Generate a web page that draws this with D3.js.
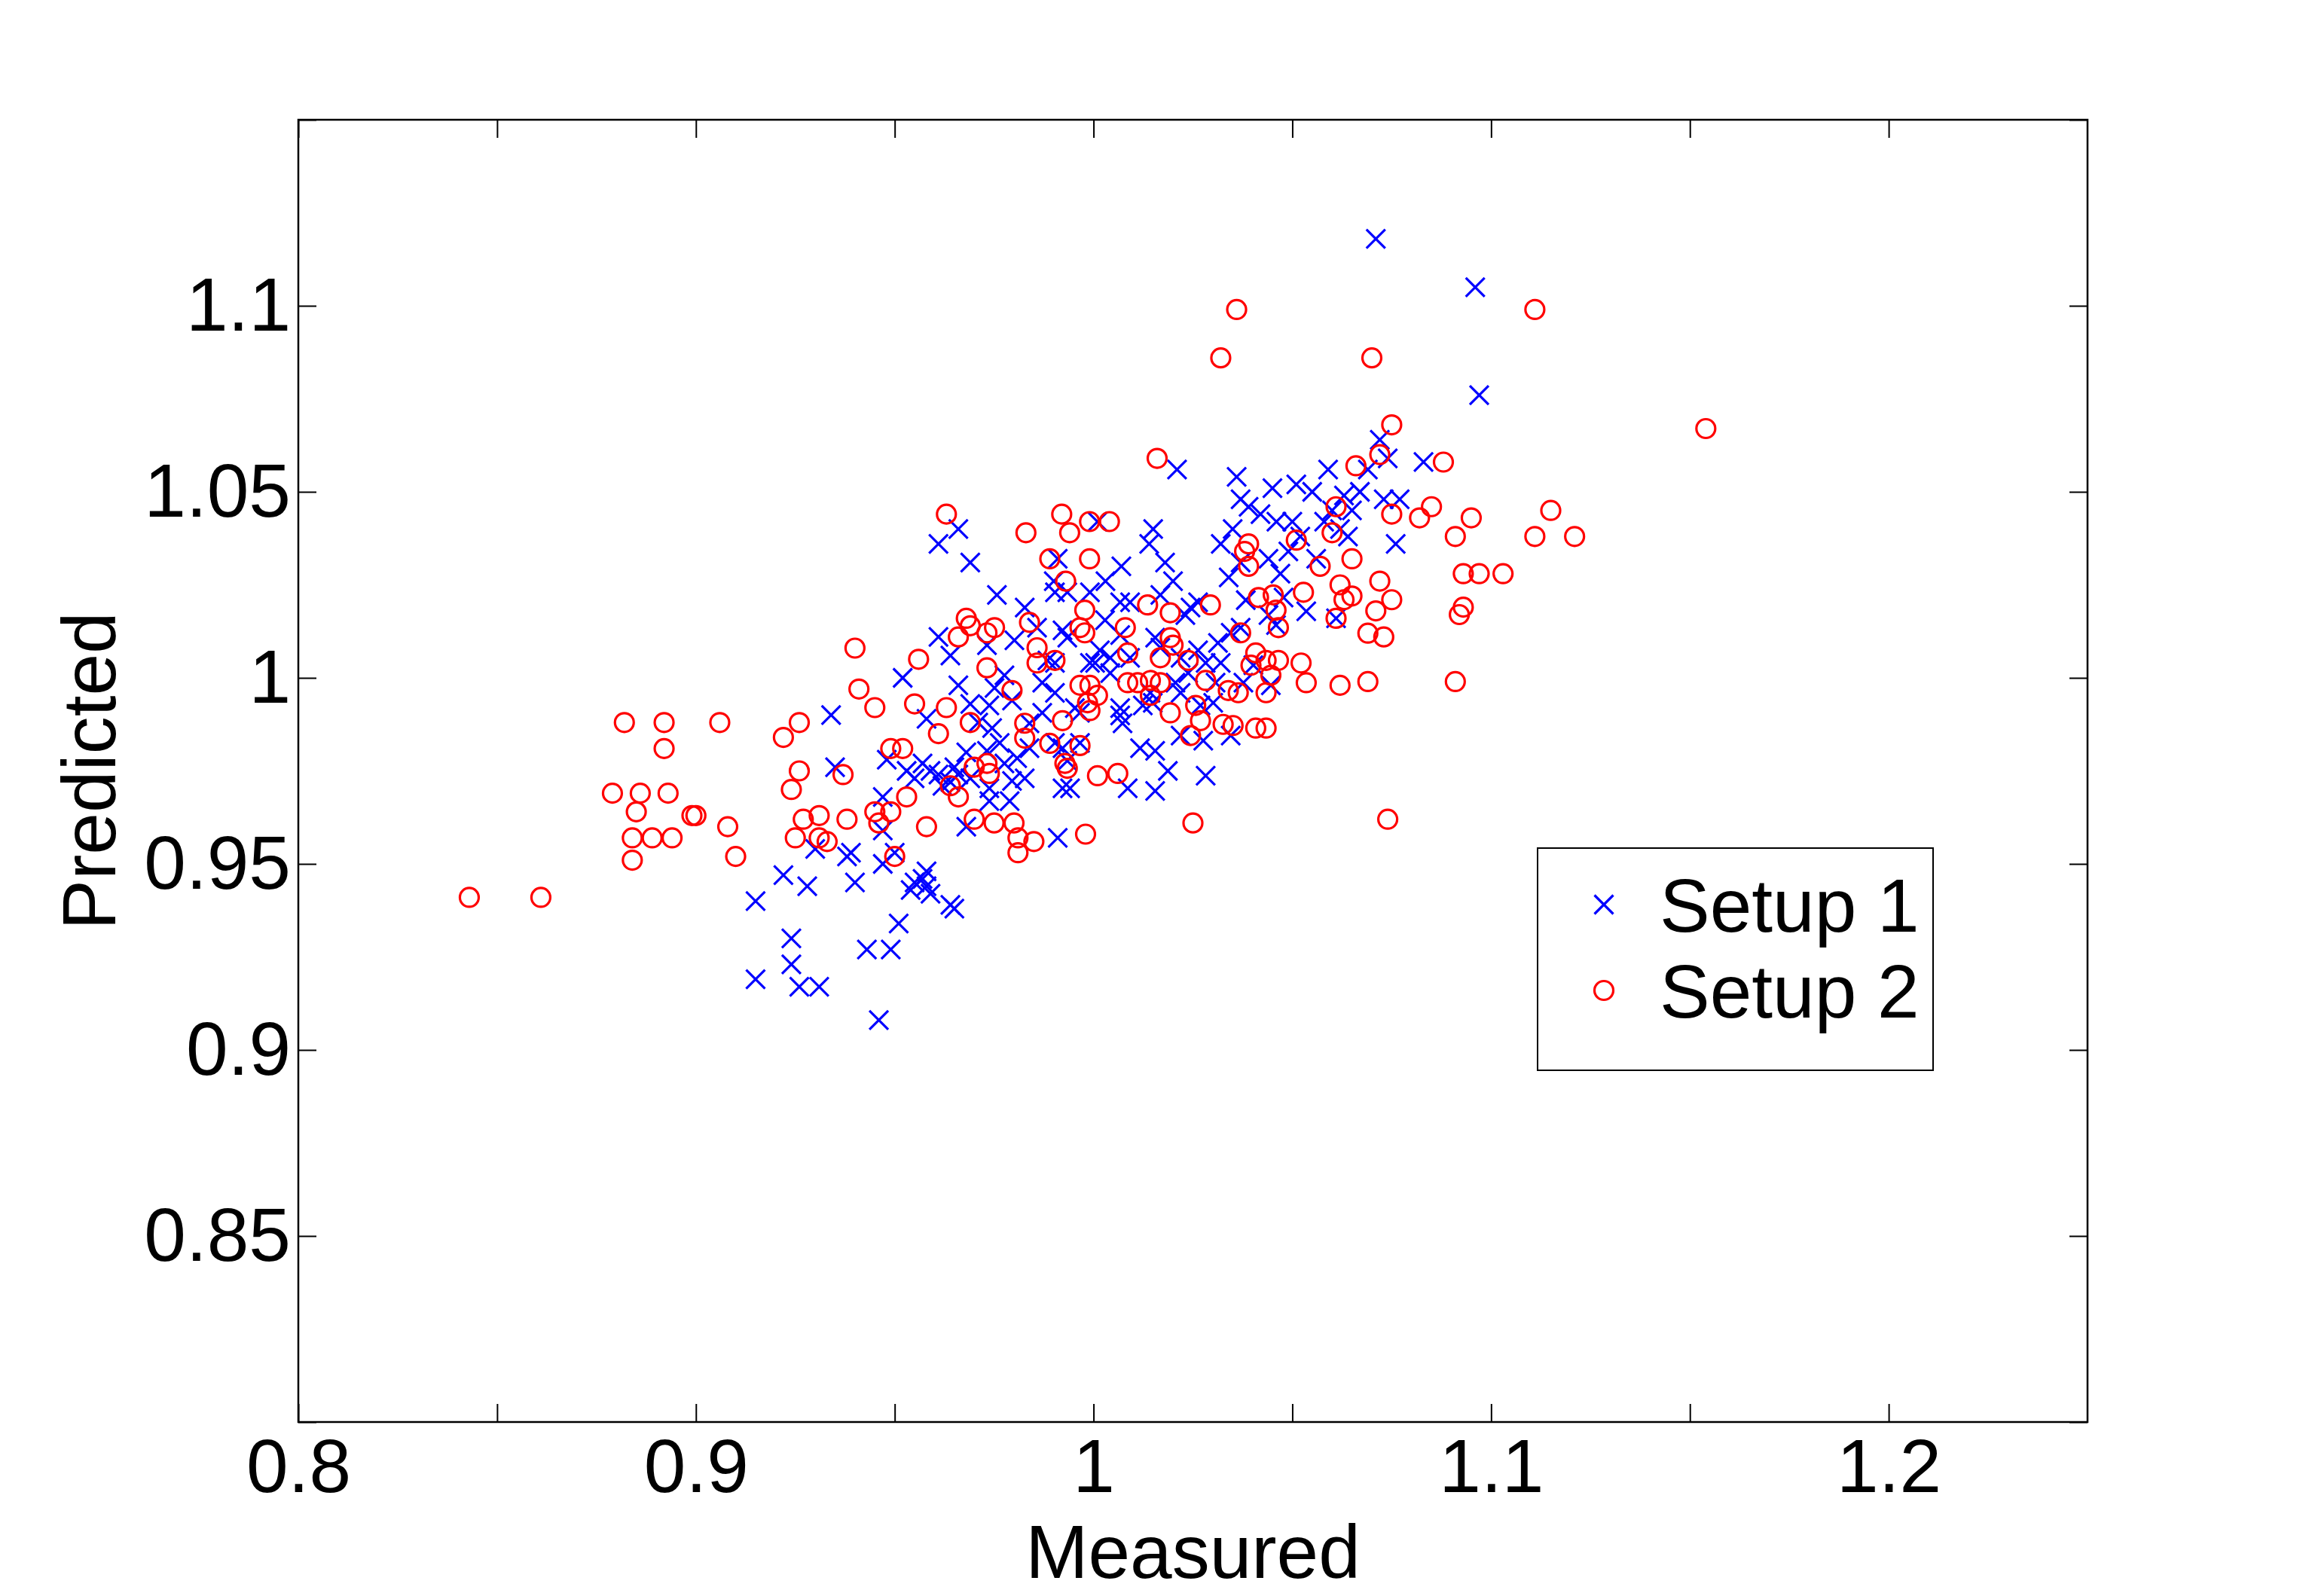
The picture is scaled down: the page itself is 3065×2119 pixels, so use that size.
<!DOCTYPE html>
<html>
<head>
<meta charset="utf-8">
<script src="https://cdn.jsdelivr.net/npm/d3@7"></script>
<style>
  html, body { margin: 0; padding: 0; background: #fff; }
  text { font-family: "Liberation Sans", Arial, sans-serif; fill: #000; }
</style>
</head>
<body>
<svg id="chart" width="3065" height="2119"></svg>
<script>
// ---------------- data ----------------
const xTickValues = [0.8, 0.85, 0.9, 0.95, 1.0, 1.05, 1.1, 1.15, 1.2];
const xTickLabels = ["0.8", "", "0.9", "", "1", "", "1.1", "", "1.2"];
const yTickValues = [0.8, 0.85, 0.9, 0.95, 1.0, 1.05, 1.1, 1.15];
const yTickLabels = ["", "0.85", "0.9", "0.95", "1", "1.05", "1.1", ""];
const seriesNames = ["Setup 1", "Setup 2"];
const xLabel = "Measured";
const yLabel = "Predicted";

// Setup 1 (blue crosses): [measured, predicted]
const setup1 = [
[0.915,0.919],[0.915,0.940],[0.922,0.947],[0.924,0.930],[0.924,0.923],[0.926,0.917],[0.928,0.944],[0.931,0.917],
[0.930,0.954],[0.934,0.990],[0.935,0.976],[0.938,0.952],[0.939,0.953],[0.940,0.945],[0.943,0.927],[0.946,0.908],
[0.947,0.950],[0.947,0.968],[0.947,0.959],[0.948,0.978],[0.949,0.927],[0.950,0.953],[0.951,0.934],[0.952,1.000],
[0.954,0.943],[0.955,0.945],[0.957,0.946],[0.958,0.948],[0.958,0.944],[0.959,0.942],[0.964,0.939],[0.965,0.938],
[0.961,1.036],[0.966,1.040],[0.969,1.031],[0.965,0.976],[0.968,0.960],[0.953,0.975],[0.955,0.973],[0.957,0.977],
[0.959,0.975],[0.961,0.974],[0.962,0.971],[0.964,0.972],[0.966,0.974],[0.969,0.973],[0.968,0.980],
[0.958,0.989],[0.961,1.011],[0.964,1.006],[0.966,0.998],[0.969,0.993],[0.971,0.988],
[0.990,1.026],[0.991,0.957],[0.991,1.032],[1.001,1.042],[1.003,1.026],[1.007,1.030],[1.014,1.036],[1.015,1.040],
[1.018,1.031],[1.020,1.026],[1.021,1.056],[1.032,1.036],[1.034,1.027],[1.035,1.040],[1.036,1.054],[1.037,1.048],
[1.037,1.031],[1.039,1.046],[1.042,1.044],[1.044,1.032],[1.045,1.051],[1.046,1.042],[1.047,1.028],[1.049,1.034],
[1.050,1.042],[1.051,1.052],[1.052,1.038],[1.055,1.050],[1.056,1.032],[1.058,1.042],[1.059,1.056],[1.060,1.045],
[1.061,1.016],[1.062,1.040],[1.063,1.049],[1.064,1.038],[1.065,1.045],[1.067,1.050],[1.069,1.056],[1.071,1.118],
[1.072,1.064],[1.073,1.048],[1.074,1.059],[1.076,1.036],[1.077,1.048],[1.083,1.058],[1.096,1.105],[1.097,1.076],
[0.9757,1.0223],[0.9827,1.0189],[0.9903,1.0230],[0.9934,1.0230],[0.9991,1.0230],[1.0029,1.0155],[1.0067,1.0203],
[1.0092,1.0203],[1.0168,1.0223],[1.0244,1.0189],[1.0263,1.0203],[1.0231,1.0169],[1.0383,1.0209],[1.0478,1.0216],
[1.0535,1.0179],[1.0440,1.0169],[1.0459,1.0142],[0.9858,1.0135],[0.9801,1.0101],[0.9732,1.0088],[0.9934,1.0108],
[0.9922,1.0128],[1.0016,1.0074],[0.9991,1.0040],[1.0042,1.0013],[1.0092,1.0054],[1.0067,1.0115],[1.0155,1.0108],
[1.0168,1.0081],[1.0263,1.0074],[1.0313,1.0094],[1.0345,1.0121],[1.0370,1.0135],[1.0238,1.0013],[1.0282,1.0040],
[1.0307,0.9987],[1.0402,1.0034],[1.0377,0.9987],[1.0446,0.9980],[1.0143,0.9960],[1.0219,0.9960],[1.0269,0.9926],
[1.0301,0.9933],[1.0067,0.9899],[1.0073,0.9878],[1.0149,0.9933],[1.0219,0.9845],[1.0276,0.9831],[1.0345,0.9845],
[1.0117,0.9811],[1.0155,0.9804],[1.0187,0.9750],[1.0282,0.9737],[1.0086,0.9703],[1.0155,0.9696],[0.9922,0.9703],
[0.9941,0.9703],[0.9776,1.0007],[0.9751,0.9973],[0.9795,0.9939],[0.9738,0.9926],[0.9871,0.9987],[0.9903,0.9960],
[0.9953,0.9919],[0.9966,0.9906],[0.9871,0.9906],[0.9839,0.9878],[0.9745,0.9865],[0.9764,0.9825],[0.9776,0.9770],
[0.9808,0.9784],[0.9839,0.9811],[0.9732,0.9804],[0.9795,0.9723],[0.9738,0.9703],[0.9827,0.9730],[0.9903,0.9825],
[0.9922,0.9811],[0.9966,0.9825],[0.9934,0.9777],[1.0004,1.0040],[1.0042,1.0054],[0.9884,1.0047],[0.9903,1.0040],
[1.0067,0.9919],[1.0124,0.9926],[1.0219,1.0054],[1.0206,0.9987],[1.0320,1.0040],[0.9789,0.9669],[0.9738,0.9669]
];

// Setup 2 (red circles): [measured, predicted]
const setup2 = [
[0.843,0.941],[0.861,0.941],[0.879,0.969],[0.882,0.988],[0.884,0.957],[0.884,0.951],[0.886,0.969],[0.885,0.964],
[0.889,0.957],[0.892,0.988],[0.892,0.981],[0.893,0.969],[0.894,0.957],[0.899,0.963],[0.900,0.963],[0.906,0.988],
[0.908,0.960],[0.910,0.952],[0.922,0.984],[0.924,0.970],[0.925,0.957],[0.926,0.975],[0.926,0.988],[0.927,0.962],
[0.931,0.957],[0.931,0.963],[0.933,0.956],[0.937,0.974],[0.938,0.962],[0.940,1.008],[0.941,0.997],[0.945,0.964],
[0.945,0.992],[0.946,0.961],[0.949,0.981],[0.949,0.964],[0.950,0.952],[0.952,0.981],[0.955,0.993],[0.956,1.005],
[0.958,0.960],[0.961,0.985],[0.963,1.044],[0.963,0.992],[0.964,0.971],[0.966,1.011],[0.968,1.016],[0.969,1.014],
[0.970,0.962],[0.969,0.988],[0.970,0.976],[0.966,0.968],[0.953,0.968],
[0.975,0.961],[0.980,0.961],[0.981,0.953],[0.981,0.957],[0.983,1.039],[0.985,0.956],[0.989,1.032],[0.992,1.044],
[0.993,1.026],[0.994,1.039],[0.998,0.958],[0.999,1.042],[0.999,1.032],[1.004,1.042],[1.016,1.059],[1.025,0.961],
[1.032,1.086],[1.036,1.099],[1.038,1.034],[1.039,1.036],[1.039,1.030],[1.051,1.037],[1.057,1.030],[1.060,1.039],
[1.061,1.016],[1.061,1.046],[1.062,1.025],[1.062,0.998],[1.063,1.021],[1.065,1.032],[1.065,1.022],[1.066,1.057],
[1.069,1.012],[1.069,0.999],[1.070,1.086],[1.071,1.018],[1.072,1.026],[1.072,1.060],[1.073,1.011],[1.074,0.962],
[1.075,1.044],[1.075,1.068],[1.075,1.021],[1.082,1.043],[1.085,1.046],[1.088,1.058],[1.091,0.999],[1.091,1.038],
[1.092,1.017],[1.093,1.028],[1.093,1.019],[1.095,1.043],[1.097,1.028],[1.103,1.028],[1.111,1.038],[1.111,1.099],
[1.115,1.045],[1.121,1.038],[1.154,1.067],
[0.9751,1.0135],[0.9732,1.0121],[0.9839,1.0149],[0.9978,1.0182],[0.9966,1.0135],[0.9978,1.0121],[1.0136,1.0196],
[1.0193,1.0175],[1.0080,1.0135],[1.0294,1.0196],[1.0415,1.0216],[1.0452,1.0223],[1.0528,1.0230],[1.0459,1.0182],
[1.0465,1.0135],[1.0370,1.0121],[0.9858,1.0081],[0.9858,1.0040],[0.9903,1.0047],[0.9732,1.0027],[1.0168,1.0054],
[1.0200,1.0088],[1.0193,1.0108],[1.0086,1.0067],[1.0086,0.9987],[1.0111,0.9987],[1.0143,0.9993],[1.0168,0.9987],
[0.9966,0.9980],[0.9991,0.9980],[1.0010,0.9953],[0.9985,0.9933],[0.9795,0.9966],[1.0238,1.0047],[1.0282,0.9993],
[1.0339,0.9966],[1.0364,0.9960],[1.0408,1.0067],[1.0396,1.0034],[1.0434,1.0047],[1.0465,1.0047],[1.0522,1.0040],
[1.0535,0.9987],[1.0434,0.9960],[1.0446,1.0007],[1.0143,0.9953],[1.0193,0.9906],[1.0257,0.9926],[1.0269,0.9885],
[1.0326,0.9875],[1.0351,0.9872],[1.0408,0.9865],[1.0434,0.9865],[1.0244,0.9845],[0.9827,0.9878],[0.9827,0.9838],
[0.9890,0.9824],[0.9922,0.9885],[0.9991,0.9912],[0.9966,0.9818],[0.9928,0.9770],[0.9934,0.9757],[1.0010,0.9737],
[1.0061,0.9743],[0.9732,0.9770],[0.9738,0.9743]
];

// ---------------- layout ----------------
const W = 3065, H = 2119;
const plot = { left: 396, right: 2771, top: 159, bottom: 1888 };
const FONT = 100;
const TICK = 24;

const svg = d3.select("#chart");
svg.append("rect").attr("width", W).attr("height", H).attr("fill", "#fff");

const x = d3.scaleLinear().domain([0.8, 1.25]).range([plot.left, plot.right]);
const y = d3.scaleLinear().domain([0.8, 1.15]).range([plot.bottom, plot.top]);

const xFmt = (d) => xTickLabels[xTickValues.findIndex(v => Math.abs(v - d) < 1e-9)] || "";
const yFmt = (d) => yTickLabels[yTickValues.findIndex(v => Math.abs(v - d) < 1e-9)] || "";

function styleAxis(g) {
  g.select(".domain").remove();
  g.selectAll(".tick line").attr("stroke", "#000").attr("stroke-width", 2);
  g.selectAll(".tick text").attr("font-size", FONT).attr("fill", "#000")
    .attr("font-family", '"Liberation Sans", Arial, sans-serif');
}

// bottom axis
svg.append("g").attr("transform", `translate(0,${plot.bottom})`)
  .call(d3.axisBottom(x).tickValues(xTickValues).tickFormat(xFmt)
        .tickSizeInner(-TICK).tickSizeOuter(0).tickPadding(22))
  .call(styleAxis);
// top axis
svg.append("g").attr("transform", `translate(0,${plot.top})`)
  .call(d3.axisTop(x).tickValues(xTickValues).tickFormat(() => "")
        .tickSizeInner(-TICK).tickSizeOuter(0))
  .call(styleAxis);
// left axis
svg.append("g").attr("transform", `translate(${plot.left},0)`)
  .call(d3.axisLeft(y).tickValues(yTickValues).tickFormat(yFmt)
        .tickSizeInner(-TICK).tickSizeOuter(0).tickPadding(10))
  .call(styleAxis);
// right axis
svg.append("g").attr("transform", `translate(${plot.right},0)`)
  .call(d3.axisRight(y).tickValues(yTickValues).tickFormat(() => "")
        .tickSizeInner(-TICK).tickSizeOuter(0))
  .call(styleAxis);

// frame
svg.append("rect")
  .attr("x", plot.left).attr("y", plot.top)
  .attr("width", plot.right - plot.left).attr("height", plot.bottom - plot.top)
  .attr("fill", "none").attr("stroke", "#000").attr("stroke-width", 2.5);

// markers
const CR = 12.5;   // cross half-size
const OR = 12.5;   // circle radius
const MSW = 3.2;

const crossPath = (cx, cy, r) =>
  `M${cx - r},${cy - r}L${cx + r},${cy + r}M${cx - r},${cy + r}L${cx + r},${cy - r}`;

const gData = svg.append("g");

gData.append("g").selectAll("path").data(setup1).join("path")
  .attr("d", d => crossPath(x(d[0]), y(d[1]), CR))
  .attr("fill", "none").attr("stroke", "#0000ff").attr("stroke-width", MSW);

gData.append("g").selectAll("circle").data(setup2).join("circle")
  .attr("cx", d => x(d[0])).attr("cy", d => y(d[1])).attr("r", OR)
  .attr("fill", "none").attr("stroke", "#ff0000").attr("stroke-width", MSW);

// axis labels
svg.append("text").attr("x", (plot.left + plot.right) / 2).attr("y", 2095)
  .attr("text-anchor", "middle").attr("font-size", FONT).text(xLabel);
svg.append("text")
  .attr("transform", `translate(153,${(plot.top + plot.bottom) / 2}) rotate(-90)`)
  .attr("text-anchor", "middle").attr("font-size", FONT).text(yLabel);

// legend
const leg = { x: 2041, y: 1126, w: 525, h: 295 };
const lg = svg.append("g");
lg.append("rect").attr("x", leg.x).attr("y", leg.y).attr("width", leg.w).attr("height", leg.h)
  .attr("fill", "#fff").attr("stroke", "#000").attr("stroke-width", 2);
const legRows = [1201, 1315];
lg.append("path").attr("d", crossPath(2129, legRows[0], CR))
  .attr("fill", "none").attr("stroke", "#0000ff").attr("stroke-width", MSW);
lg.append("circle").attr("cx", 2129).attr("cy", legRows[1]).attr("r", OR)
  .attr("fill", "none").attr("stroke", "#ff0000").attr("stroke-width", MSW);
lg.selectAll("text.lt").data(seriesNames).join("text").attr("class", "lt")
  .attr("x", 2203).attr("y", (d, i) => legRows[i] + 36)
  .attr("font-size", FONT).text(d => d);
</script>
</body>
</html>
